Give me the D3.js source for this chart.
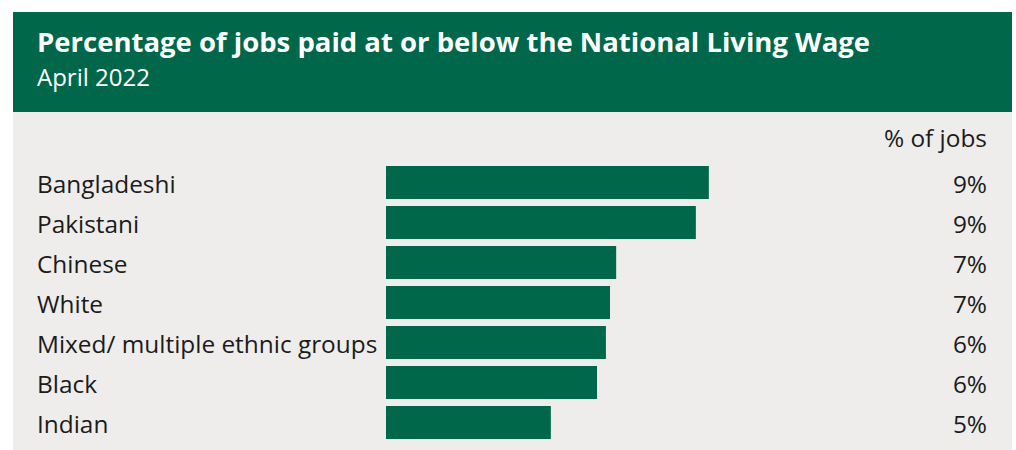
<!DOCTYPE html>
<html>
<head>
<meta charset="utf-8">
<script src="https://cdn.jsdelivr.net/npm/d3@7"></script>
<style>
  html, body { margin: 0; padding: 0; background: #ffffff; }
  svg { display: block; }
</style>
</head>
<body>
<svg id="chart" width="1016" height="450"></svg>
<script>
// Ethnic groups, top to bottom
const categories = [
  "Bangladeshi",
  "Pakistani",
  "Chinese",
  "White",
  "Mixed/ multiple ethnic groups",
  "Black",
  "Indian"
];

// Share of jobs paid at or below the National Living Wage (%)
const values = [9.44, 9.06, 6.73, 6.55, 6.43, 6.17, 4.82];

const title = "Percentage of jobs paid at or below the National Living Wage";
const subtitle = "April 2022";
const valueHeader = "% of jobs";

const green = "#00674a";
const panel = "#eeedeb";
const ink = "#1b1b1b";
const labelFont = "'Open Sans', 'Noto Sans', sans-serif";
const labelSize = 24.4;

const svg = d3.select("#chart");

// Header band
svg.append("rect")
  .attr("x", 13).attr("y", 12)
  .attr("width", 999).attr("height", 100)
  .attr("fill", green);

// Body panel
svg.append("rect")
  .attr("x", 13).attr("y", 112)
  .attr("width", 999).attr("height", 338)
  .attr("fill", panel);

svg.append("text")
  .attr("x", 37).attr("y", 52)
  .attr("fill", "#ffffff")
  .attr("font-family", "'Open Sans', sans-serif")
  .attr("font-weight", 700)
  .attr("font-size", 27.5)
  .text(title);

svg.append("text")
  .attr("x", 37).attr("y", 86)
  .attr("fill", "#ffffff")
  .attr("font-family", "'Open Sans', sans-serif")
  .attr("font-size", 24)
  .text(subtitle);

const x = d3.scaleLinear().domain([0, 10]).range([386, 728]);
const y = d3.scaleBand()
  .domain(categories)
  .range([162.5, 442.5])
  .paddingInner(0.175)
  .paddingOuter(0.0875);

const rows = categories.map((c, i) => ({ category: c, value: values[i] }));
const fmt = d => d3.format(".0f")(d) + "%";

svg.append("text")
  .attr("x", 987).attr("y", 147)
  .attr("text-anchor", "end")
  .attr("fill", ink)
  .attr("font-family", labelFont)
  .attr("font-size", labelSize)
  .text(valueHeader);

const g = svg.append("g");

g.selectAll("rect.bar")
  .data(rows)
  .join("rect")
  .attr("class", "bar")
  .attr("x", x(0))
  .attr("y", d => y(d.category))
  .attr("width", d => x(d.value) - x(0))
  .attr("height", y.bandwidth())
  .attr("fill", green);

g.selectAll("text.cat")
  .data(rows)
  .join("text")
  .attr("class", "cat")
  .attr("x", 37)
  .attr("y", d => y(d.category) + y.bandwidth() / 2 + 10)
  .attr("fill", ink)
  .attr("font-family", labelFont)
  .attr("font-size", labelSize)
  .text(d => d.category);

g.selectAll("text.val")
  .data(rows)
  .join("text")
  .attr("class", "val")
  .attr("x", 987)
  .attr("y", d => y(d.category) + y.bandwidth() / 2 + 10)
  .attr("text-anchor", "end")
  .attr("fill", ink)
  .attr("font-family", labelFont)
  .attr("font-size", labelSize)
  .text(d => fmt(d.value));
</script>
</body>
</html>
